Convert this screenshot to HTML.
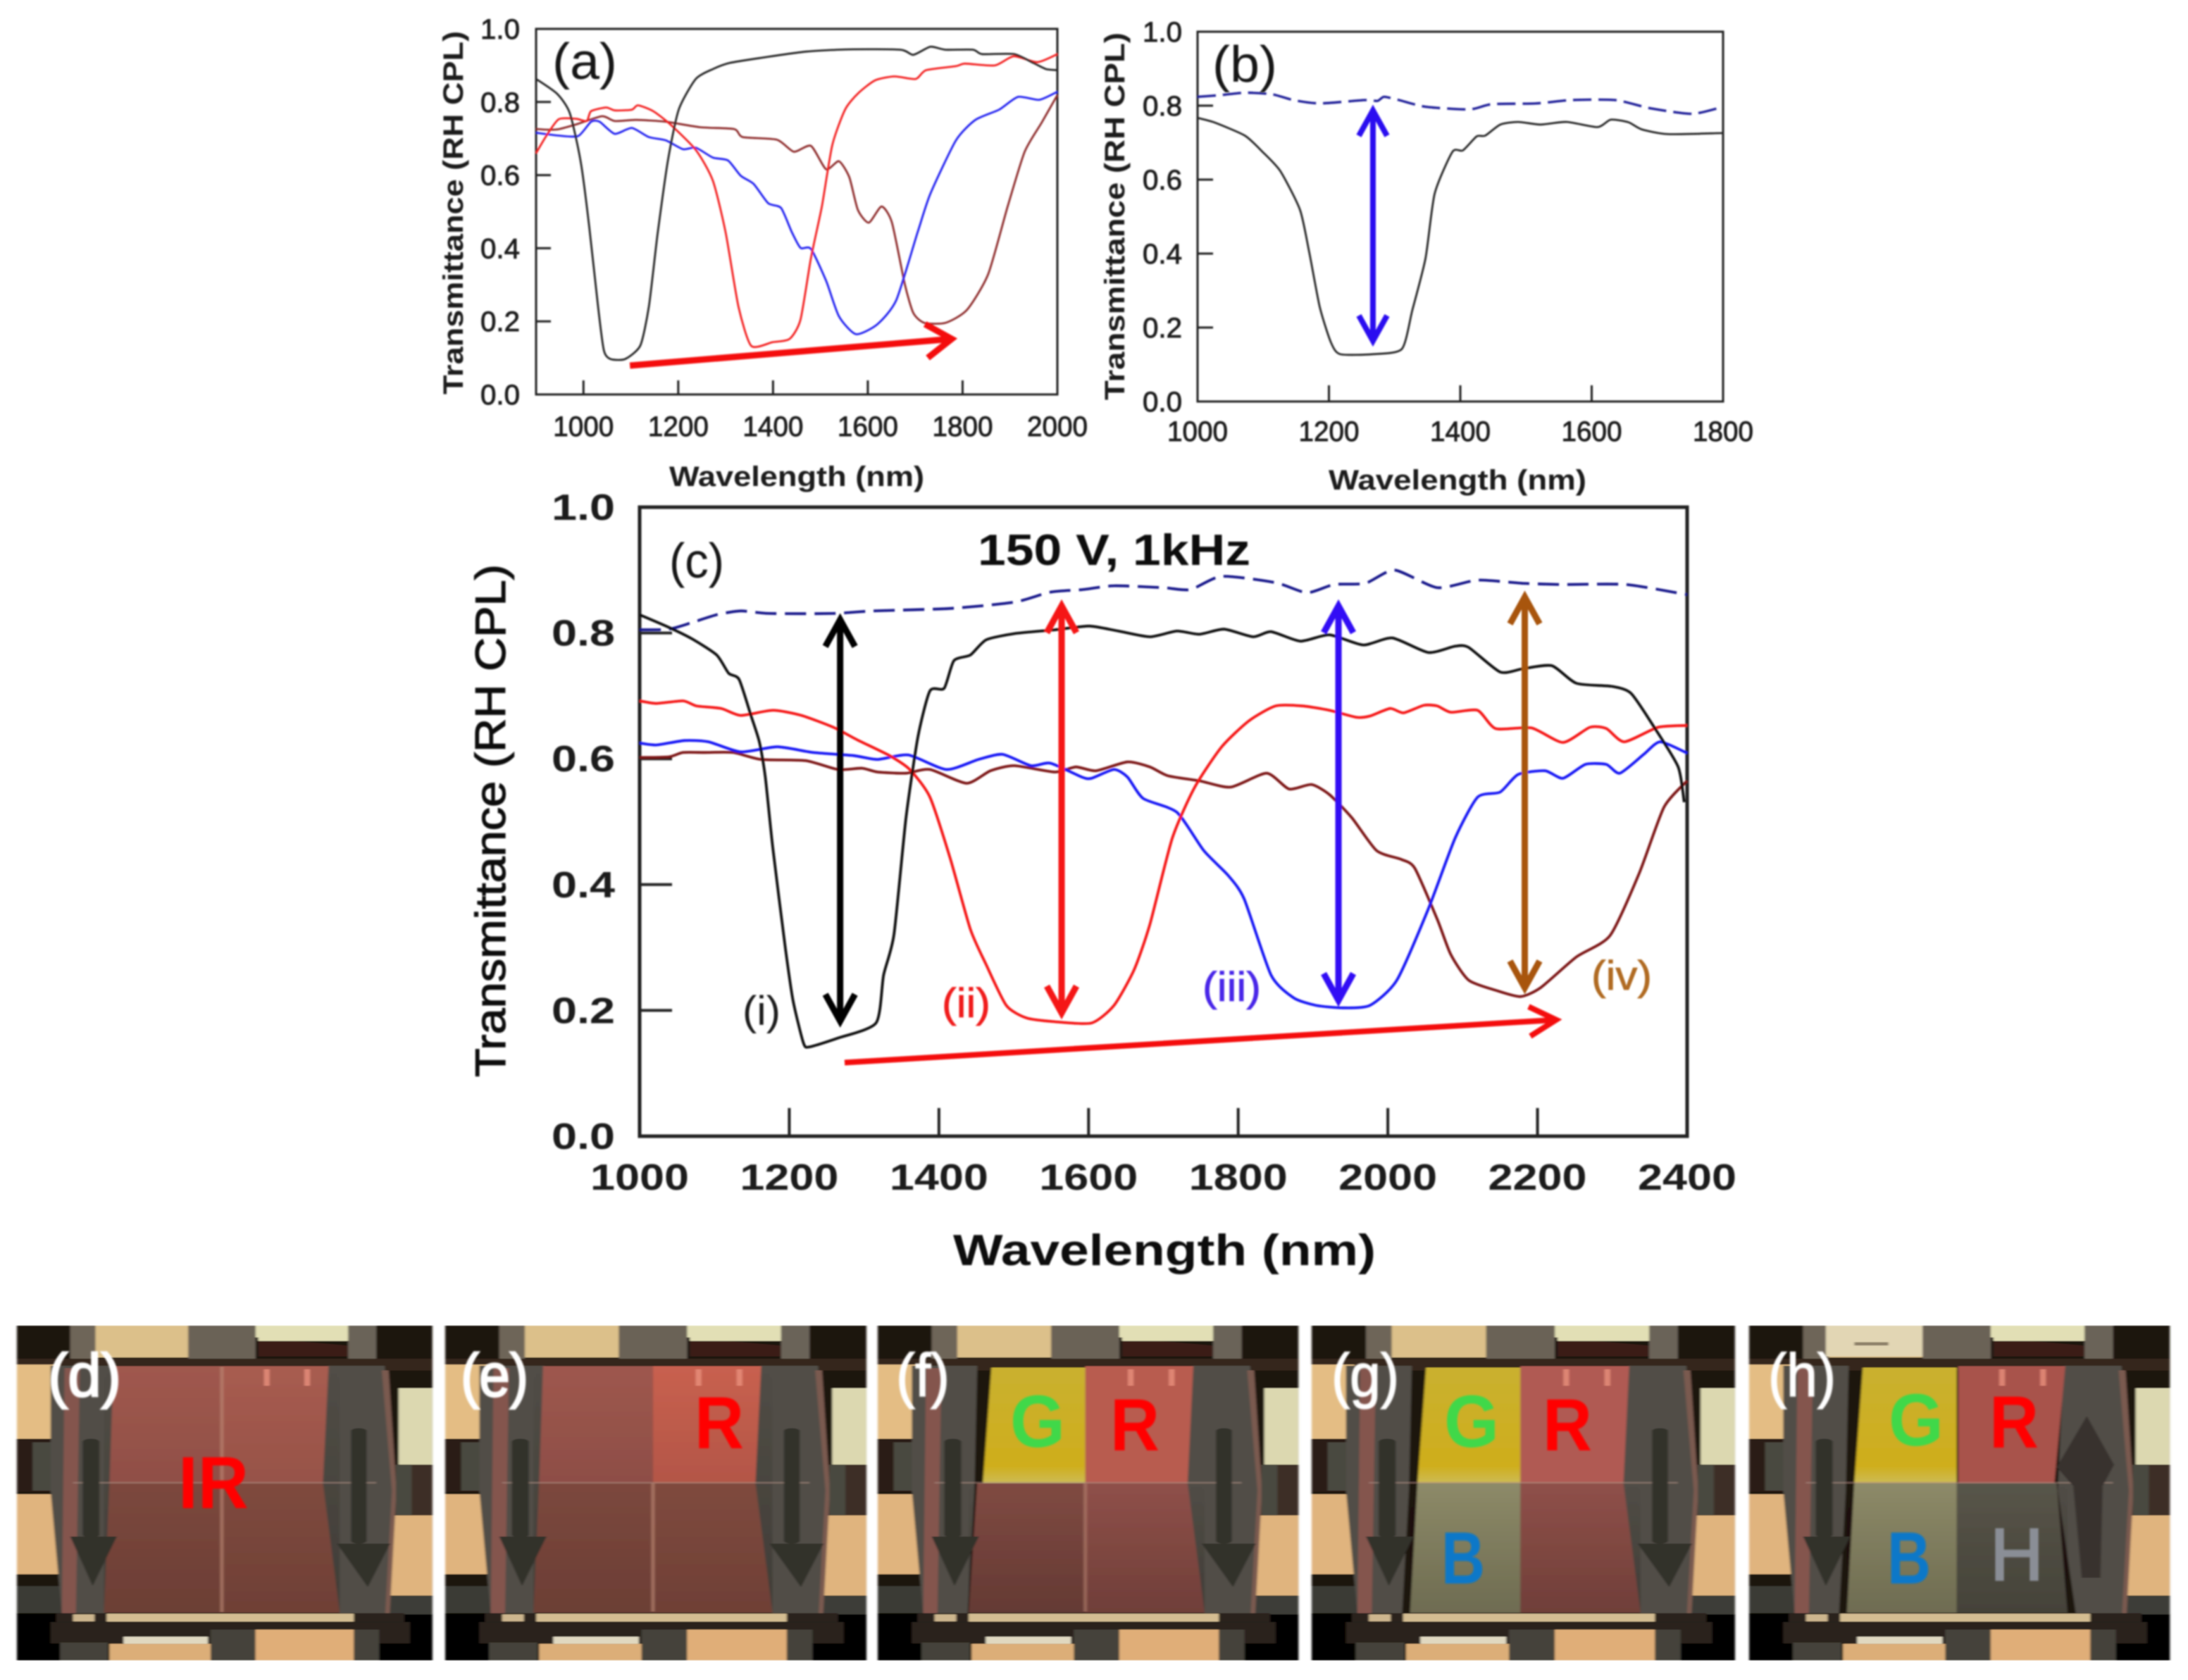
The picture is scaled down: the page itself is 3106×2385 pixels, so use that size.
<!DOCTYPE html>
<html lang="en">
<head>
<meta charset="utf-8">
<title>Transmittance spectra and reflective display panels</title>
<style>
html,body{margin:0;padding:0;background:#fff;}
svg{display:block;}
text{font-family:"Liberation Sans",sans-serif;}
</style>
</head>
<body>
<svg id="figure" xmlns="http://www.w3.org/2000/svg" width="3106" height="2385" viewBox="0 0 3106 2385">
  <defs>
    <filter id="soft" x="-5%" y="-5%" width="110%" height="110%"><feGaussianBlur stdDeviation="1.1"/></filter>
    <filter id="softer" x="-5%" y="-5%" width="110%" height="110%"><feGaussianBlur stdDeviation="2"/></filter>
    <filter id="softtext" x="-10%" y="-10%" width="120%" height="120%"><feGaussianBlur stdDeviation="1.2"/></filter>
    <linearGradient id="shade" x1="0" y1="0" x2="0" y2="1">
      <stop offset="0" stop-color="#000" stop-opacity="0"/>
      <stop offset="1" stop-color="#000" stop-opacity="0.22"/>
    </linearGradient>
    <linearGradient id="gold" x1="0" y1="0" x2="0" y2="1">
      <stop offset="0" stop-color="#c9b030"/>
      <stop offset=".85" stop-color="#cfae1c"/>
      <stop offset="1" stop-color="#cdbb55"/>
    </linearGradient>
    <g id="photo-base">
      <rect x="0" y="0" width="740" height="1420" fill="#1e120c"/>
      <rect x="135" y="0" width="170" height="135" fill="#dcc08a"/>
      <rect x="425" y="0" width="165" height="50" fill="#e2dfb5"/>
      <polygon points="430,50 590,85 590,130 430,130" fill="#3a1e18"/>
      <rect x="430" y="30" width="160" height="35" fill="#e2dfb5"/>
      <rect x="95" y="0" width="45" height="160" fill="#6e6558"/>
      <rect x="305" y="0" width="120" height="145" fill="#6a6257"/>
      <rect x="590" y="0" width="50" height="155" fill="#6b6358"/>
      <rect x="0" y="140" width="740" height="50" fill="#35261c"/>
      <rect x="0" y="165" width="75" height="315" fill="#e4bd84"/>
      <rect x="0" y="480" width="75" height="225" fill="#2a1a14"/>
      <rect x="28" y="495" width="50" height="205" fill="#4a4840"/>
      <rect x="0" y="715" width="85" height="340" fill="#e0b47e"/>
      <rect x="0" y="1055" width="75" height="55" fill="#1c1410"/>
      <rect x="0" y="1105" width="85" height="115" fill="#3a3a34"/>
      <rect x="0" y="1220" width="740" height="200" fill="#040404"/>
      <rect x="680" y="265" width="60" height="325" fill="#dcd8b0"/>
      <rect x="670" y="590" width="70" height="215" fill="#3e2e26"/>
      <rect x="665" y="805" width="75" height="340" fill="#e0b47e"/>
      <rect x="660" y="1145" width="80" height="80" fill="#3e3c38"/>
      <polygon points="60,170 175,170 170,700 158,1225 80,1225 60,700" fill="#514d46"/>
      <polygon points="85,180 112,180 105,1225 80,1225" fill="#84544e"/>
      <polygon points="553,170 655,170 672,700 662,1225 575,1225 543,700" fill="#514d46"/>
      <polygon points="650,190 662,190 676,700 664,1225 656,1225 668,700" fill="#7a5a50"/>
      <rect x="675" y="590" width="28" height="215" fill="#4a4840"/>
      <rect x="70" y="1220" width="620" height="38" fill="#2a241c"/>
      <rect x="160" y="1222" width="440" height="34" fill="#d4bd92"/>
      <rect x="100" y="1225" width="38" height="30" fill="#cdb68e"/>
      <rect x="60" y="1258" width="640" height="90" fill="#2a241c"/>
      <rect x="77" y="1345" width="85" height="75" fill="#45423a"/>
      <rect x="345" y="1290" width="85" height="130" fill="#45423a"/>
      <rect x="600" y="1290" width="45" height="130" fill="#45423a"/>
      <rect x="165" y="1350" width="180" height="70" fill="#dcae78"/>
      <rect x="425" y="1290" width="175" height="130" fill="#e0ae78"/>
      <rect x="190" y="1320" width="150" height="30" fill="#e0d8c0"/>
    </g>
    <g id="arrow-left">
      <rect x="117" y="480" width="30" height="420" rx="14" fill="#33302b"/>
      <polygon points="95,895 178,895 135,1105" fill="#33302b"/>
    </g>
    <g id="arrow-right">
      <rect x="595" y="435" width="28" height="490" rx="13" fill="#33302b"/>
      <polygon points="570,925 665,925 625,1110" fill="#33302b"/>
    </g>
    <g id="divider">
      <rect x="100" y="662" width="540" height="9" fill="#a78a7e" opacity=".45"/>
    </g>
    <g id="glow-marks">
      <rect x="440" y="185" width="10" height="70" fill="#e8907c" opacity=".8"/>
      <rect x="512" y="185" width="10" height="70" fill="#e8907c" opacity=".8"/>
    </g>
  </defs>

  <rect width="3106" height="2385" fill="#fff"/>

  <g id="charts" filter="url(#soft)"></g>

  <g filter="url(#soft)">
    <text x="784" y="112" font-size="72" fill="#151515" textLength="92" lengthAdjust="spacingAndGlyphs">(a)</text>
    <text transform="translate(657,302) rotate(-90)" text-anchor="middle" font-size="40" font-weight="bold" fill="#1c1c1c" textLength="516" lengthAdjust="spacingAndGlyphs">Transmittance (RH CPL)</text>
    <text x="1131" y="690" text-anchor="middle" font-size="40" font-weight="bold" fill="#1c1c1c" textLength="362" lengthAdjust="spacingAndGlyphs">Wavelength (nm)</text>
    <text x="1721" y="116" font-size="72" fill="#151515" textLength="92" lengthAdjust="spacingAndGlyphs">(b)</text>
    <text transform="translate(1596,307) rotate(-90)" text-anchor="middle" font-size="40" font-weight="bold" fill="#1c1c1c" textLength="522" lengthAdjust="spacingAndGlyphs">Transmittance (RH CPL)</text>
    <text x="2069" y="695" text-anchor="middle" font-size="40" font-weight="bold" fill="#1c1c1c" textLength="366" lengthAdjust="spacingAndGlyphs">Wavelength (nm)</text>
    <text x="950" y="820" font-size="70" fill="#151515" textLength="78" lengthAdjust="spacingAndGlyphs">(c)</text>
    <text x="1388" y="802" font-size="62" font-weight="bold" fill="#111" textLength="387" lengthAdjust="spacingAndGlyphs">150 V, 1kHz</text>
    <text transform="translate(717,1165) rotate(-90)" text-anchor="middle" font-size="60" fill="#111" stroke="#111" stroke-width="1.2" textLength="728" lengthAdjust="spacingAndGlyphs">Transmittance (RH CPL)</text>
    <text x="1653" y="1796" text-anchor="middle" font-size="62" font-weight="bold" fill="#111" textLength="600" lengthAdjust="spacingAndGlyphs">Wavelength (nm)</text>
    <text x="1054" y="1455" font-size="58" fill="#1a1a1a" textLength="54" lengthAdjust="spacingAndGlyphs">(i)</text>
    <text x="1337" y="1444" font-size="58" fill="#f01c1c" stroke="#f01c1c" stroke-width=".8" textLength="69" lengthAdjust="spacingAndGlyphs">(ii)</text>
    <text x="1707" y="1421" font-size="58" fill="#4a28e8" stroke="#4a28e8" stroke-width=".8" textLength="83" lengthAdjust="spacingAndGlyphs">(iii)</text>
    <text x="2259" y="1405" font-size="58" fill="#b06a20" stroke="#b06a20" stroke-width=".8" textLength="86" lengthAdjust="spacingAndGlyphs">(iv)</text>
  </g>

  <g>
    <g filter="url(#softer)" transform="translate(24,1882) scale(.797,.3345)">
      <use href="#photo-base"/>
      <polygon points="172,172 365,172 365,668 165,668" fill="#a0584e"/>
      <polygon points="365,172 555,172 545,668 365,668" fill="#a85c50"/>
      <polygon points="165,668 365,668 365,1218 155,1218" fill="#8a5044"/>
      <polygon points="365,668 545,668 575,1218 365,1218" fill="#8e5245"/>
      <polygon points="155,172 575,172 575,1218 155,1218" fill="url(#shade)"/>
      <rect x="362" y="175" width="6" height="1040" fill="#c08c78" opacity=".6"/>
      <use href="#glow-marks"/><use href="#divider"/><use href="#arrow-left"/><use href="#arrow-right"/>
    </g>
    <g filter="url(#softtext)">
      <text x="120" y="1982" text-anchor="middle" font-size="86" fill="#fff" stroke="#fff" stroke-width="2.5" textLength="104" lengthAdjust="spacingAndGlyphs">(d)</text>
      <text x="303" y="2141" text-anchor="middle" font-size="105" font-weight="bold" fill="#f00" textLength="100" lengthAdjust="spacingAndGlyphs">IR</text>
    </g>
  </g>

  <g>
    <g filter="url(#softer)" transform="translate(632,1882) scale(.808,.3345)">
      <use href="#photo-base"/>
      <polygon points="172,172 365,172 365,668 165,668" fill="#9e574e"/>
      <polygon points="365,172 555,172 545,668 365,668" fill="#c8604f"/>
      <polygon points="165,668 365,668 365,1218 155,1218" fill="#8a5044"/>
      <polygon points="365,668 545,668 575,1218 365,1218" fill="#8e5245"/>
      <polygon points="155,172 575,172 575,1218 155,1218" fill="url(#shade)"/>
      <rect x="362" y="668" width="6" height="545" fill="#c08c78" opacity=".6"/>
      <use href="#glow-marks"/><use href="#divider"/><use href="#arrow-left"/><use href="#arrow-right"/>
    </g>
    <g filter="url(#softtext)">
      <text x="702" y="1982" text-anchor="middle" font-size="86" fill="#fff" stroke="#fff" stroke-width="2.5" textLength="96" lengthAdjust="spacingAndGlyphs">(e)</text>
      <text x="1021" y="2056" text-anchor="middle" font-size="105" font-weight="bold" fill="#f00" textLength="70" lengthAdjust="spacingAndGlyphs">R</text>
    </g>
  </g>

  <g>
    <g filter="url(#softer)" transform="translate(1246,1882) scale(.807,.3345)">
      <use href="#photo-base"/>
      <polygon points="200,178 365,178 365,668 185,668" fill="url(#gold)"/>
      <polygon points="365,172 555,172 545,668 365,668" fill="#b85c50"/>
      <polygon points="175,668 365,668 365,1218 160,1218" fill="#804a42"/>
      <polygon points="365,668 545,668 575,1218 365,1218" fill="#8f5049"/>
      <polygon points="160,668 575,668 575,1218 160,1218" fill="url(#shade)"/>
      <rect x="362" y="668" width="6" height="545" fill="#c08c78" opacity=".5"/>
      <use href="#glow-marks"/><use href="#divider"/><use href="#arrow-left"/><use href="#arrow-right"/>
    </g>
    <g filter="url(#softtext)">
      <text x="1310" y="1982" text-anchor="middle" font-size="86" fill="#fff" stroke="#fff" stroke-width="1.5" textLength="76" lengthAdjust="spacingAndGlyphs">(f)</text>
      <text x="1473" y="2054" text-anchor="middle" font-size="105" font-weight="bold" fill="#3fd84a" textLength="78" lengthAdjust="spacingAndGlyphs">G</text>
      <text x="1611" y="2059" text-anchor="middle" font-size="105" font-weight="bold" fill="#f00" textLength="70" lengthAdjust="spacingAndGlyphs">R</text>
    </g>
  </g>

  <g>
    <g filter="url(#softer)" transform="translate(1862,1882) scale(.812,.3345)">
      <use href="#photo-base"/>
      <polygon points="200,178 365,178 365,668 185,668" fill="url(#gold)"/>
      <polygon points="365,172 555,172 545,668 365,668" fill="#b05a52"/>
      <polygon points="185,668 365,668 365,1218 172,1218" fill="#8d8a68"/>
      <polygon points="365,668 545,668 575,1218 365,1218" fill="#8f5049"/>
      <polygon points="172,668 575,668 575,1218 172,1218" fill="url(#shade)"/>
      <use href="#glow-marks"/><use href="#divider"/><use href="#arrow-left"/><use href="#arrow-right"/>
    </g>
    <g filter="url(#softtext)">
      <text x="1938" y="1982" text-anchor="middle" font-size="86" fill="#fff" stroke="#fff" stroke-width="1.5" textLength="96" lengthAdjust="spacingAndGlyphs">(g)</text>
      <text x="2089" y="2054" text-anchor="middle" font-size="105" font-weight="bold" fill="#3fd84a" textLength="78" lengthAdjust="spacingAndGlyphs">G</text>
      <text x="2225" y="2059" text-anchor="middle" font-size="105" font-weight="bold" fill="#f00" textLength="70" lengthAdjust="spacingAndGlyphs">R</text>
      <text x="2077" y="2248" text-anchor="middle" font-size="105" font-weight="bold" fill="#0b78c8" textLength="62" lengthAdjust="spacingAndGlyphs">B</text>
    </g>
  </g>

  <g>
    <g filter="url(#softer)" transform="translate(2483,1882) scale(.807,.3345)">
      <use href="#photo-base"/>
      <rect x="135" y="0" width="170" height="130" fill="#e2d6b4"/>
      <rect x="185" y="70" width="60" height="14" fill="#6b5c48" opacity=".7"/>
      <polygon points="200,178 365,178 365,668 185,668" fill="url(#gold)"/>
      <polygon points="368,172 556,172 537,668 368,668" fill="#a8524c"/>
      <polygon points="185,668 365,668 365,1218 172,1218" fill="#8d8a68"/>
      <polygon points="365,668 541,668 560,1218 365,1218" fill="#585549"/>
      <polygon points="172,668 560,668 560,1218 172,1218" fill="url(#shade)"/>
      <use href="#glow-marks"/><use href="#divider"/><use href="#arrow-left"/>
      <polygon points="594,383 642,590 622,680 618,1070 585,1070 570,680 541,600" fill="#39332e"/>
    </g>
    <g filter="url(#softtext)">
      <text x="2558" y="1982" text-anchor="middle" font-size="86" fill="#fff" stroke="#fff" stroke-width="1.5" textLength="96" lengthAdjust="spacingAndGlyphs">(h)</text>
      <text x="2720" y="2052" text-anchor="middle" font-size="105" font-weight="bold" fill="#3fd84a" textLength="78" lengthAdjust="spacingAndGlyphs">G</text>
      <text x="2859" y="2055" text-anchor="middle" font-size="105" font-weight="bold" fill="#f00" textLength="70" lengthAdjust="spacingAndGlyphs">R</text>
      <text x="2710" y="2248" text-anchor="middle" font-size="105" font-weight="bold" fill="#0b78c8" textLength="62" lengthAdjust="spacingAndGlyphs">B</text>
      <text x="2863" y="2243" text-anchor="middle" font-size="105" fill="#8a8e96" stroke="#8a8e96" stroke-width="2.5" textLength="76" lengthAdjust="spacingAndGlyphs">H</text>
    </g>
  </g>
</svg>

<script>
const transmittanceTicks = [0, 0.2, 0.4, 0.6, 0.8, 1.0];
const transmittanceTickLabels = ["0.0", "0.2", "0.4", "0.6", "0.8", "1.0"];

const panelAWavelengthTicks = [1000, 1200, 1400, 1600, 1800, 2000];
const panelBWavelengthTicks = [1000, 1200, 1400, 1600, 1800];
const panelCWavelengthTicks = [1000, 1200, 1400, 1600, 1800, 2000, 2200, 2400];

const aBlackWavelength = [900,944,971,994,1012,1030,1043,1057,1088,1120,1138,1156,1178,1201,1237,1273,1309,1381,1471,1561,1669,1696,1732,1764,1822,1841,1908,1949,1976,2000];
const aBlackValues = [.863,.823,.770,.638,.461,.249,.121,.097,.097,.134,.240,.435,.638,.779,.863,.890,.907,.922,.938,.944,.943,.929,.951,.943,.943,.931,.931,.907,.890,.887];
const aRedWavelength = [900,922,948,985,1007,1016,1048,1066,1102,1115,1147,1183,1237,1273,1300,1327,1354,1399,1435,1458,1480,1503,1525,1552,1579,1615,1656,1701,1723,1786,1805,1868,1908,1958,2000];
const aRedValues = [.660,.708,.753,.754,.748,.775,.785,.777,.779,.791,.775,.739,.669,.585,.443,.240,.133,.143,.152,.205,.373,.514,.682,.779,.823,.859,.870,.863,.887,.898,.905,.900,.925,.909,.931];
const aBlueWavelength = [900,948,989,1016,1034,1066,1102,1138,1174,1210,1237,1273,1305,1332,1359,1390,1417,1440,1458,1480,1512,1539,1575,1620,1660,1705,1732,1786,1827,1877,1917,1962,2000];
const aBlueValues = [.716,.708,.707,.746,.746,.713,.729,.704,.695,.671,.675,.648,.640,.598,.576,.523,.510,.443,.401,.398,.311,.214,.165,.192,.258,.443,.549,.695,.751,.779,.814,.806,.828];
const aBrownWavelength = [900,926,949,985,1039,1066,1111,1174,1246,1318,1336,1408,1444,1480,1512,1539,1561,1579,1602,1629,1651,1678,1696,1719,1764,1809,1854,1895,1931,1967,2000];
const aBrownValues = [.726,.724,.726,.739,.761,.748,.751,.746,.731,.726,.704,.697,.664,.680,.616,.638,.594,.505,.470,.514,.470,.302,.223,.196,.196,.231,.329,.514,.664,.744,.819];

const bBlackWavelength = [1000,1025,1072,1099,1126,1156,1170,1186,1203,1217,1267,1311,1327,1347,1361,1388,1404,1425,1438,1461,1488,1522,1562,1609,1629,1656,1676,1716,1800];
const bBlackValues = [.767,.755,.719,.675,.623,.518,.404,.256,.160,.128,.128,.142,.247,.387,.562,.675,.679,.717,.719,.749,.756,.749,.756,.742,.762,.755,.736,.723,.726];
const bDashedWavelength = [1000,1032,1072,1113,1146,1186,1254,1274,1284,1307,1347,1414,1448,1515,1569,1636,1689,1753,1800];
const bDashedValues = [.824,.828,.835,.831,.815,.806,.815,.813,.824,.815,.797,.790,.804,.806,.815,.815,.793,.778,.797];

const cBlackWavelength = [1000,1039,1071,1103,1119,1133,1149,1160,1168,1178,1195,1205,1219,1227,1265,1316,1326,1340,1356,1372,1388,1407,1420,1442,1463,1501,1555,1601,1640,1682,1718,1748,1781,1820,1844,1883,1922,1967,2006,2054,2090,2108,2150,2180,2219,2252,2300,2325,2355,2388,2396];
const cBlackValues = [.829,.809,.790,.765,.736,.726,.668,.627,.571,.458,.297,.216,.148,.142,.156,.180,.256,.321,.506,.635,.708,.712,.756,.765,.789,.799,.805,.811,.803,.794,.803,.798,.806,.794,.802,.787,.797,.781,.792,.769,.779,.777,.738,.743,.748,.720,.715,.704,.652,.587,.531];
const cRedWavelength = [1000,1022,1058,1076,1109,1135,1178,1216,1259,1291,1334,1361,1388,1415,1442,1463,1490,1517,1555,1604,1634,1661,1682,1712,1742,1778,1814,1850,1886,1922,1958,1976,2003,2021,2048,2066,2084,2120,2144,2192,2234,2270,2292,2316,2361,2400];
const cRedValues = [.692,.688,.692,.684,.680,.669,.677,.669,.650,.630,.605,.583,.539,.442,.329,.273,.208,.188,.182,.180,.208,.265,.337,.474,.555,.619,.660,.684,.684,.677,.666,.668,.680,.673,.685,.684,.674,.677,.648,.649,.626,.650,.648,.627,.650,.653];
const cBlueWavelength = [1000,1022,1060,1092,1135,1184,1232,1286,1318,1359,1410,1453,1485,1523,1549,1591,1604,1634,1652,1673,1718,1754,1787,1808,1844,1874,1904,1940,1976,2012,2054,2090,2120,2150,2174,2210,2234,2264,2292,2310,2342,2364,2400];
const cBlueValues = [.625,.622,.629,.627,.611,.619,.610,.605,.599,.606,.583,.599,.607,.589,.593,.571,.569,.583,.571,.537,.515,.454,.414,.377,.256,.220,.208,.204,.208,.248,.361,.474,.539,.547,.575,.581,.569,.591,.591,.577,.607,.627,.609];
const cBrownWavelength = [1000,1039,1058,1087,1125,1162,1222,1265,1297,1318,1356,1388,1437,1469,1501,1555,1583,1610,1652,1682,1706,1748,1790,1838,1868,1898,1922,1952,1985,2018,2036,2066,2084,2108,2144,2177,2204,2252,2297,2336,2369,2400];
const cBrownValues = [.602,.603,.610,.610,.610,.599,.597,.583,.585,.579,.577,.583,.561,.581,.589,.579,.587,.581,.595,.587,.573,.565,.555,.577,.552,.559,.543,.506,.454,.440,.426,.345,.289,.248,.232,.222,.236,.285,.319,.418,.523,.565];
const cDashedWavelength = [1000,1039,1071,1103,1135,1173,1259,1312,1415,1501,1549,1592,1634,1700,1736,1778,1850,1892,1928,1970,2009,2066,2120,2180,2234,2318,2400];
const cDashedValues = [.805,.806,.817,.829,.835,.831,.831,.835,.839,.849,.865,.869,.875,.872,.869,.890,.880,.864,.877,.879,.900,.872,.884,.879,.877,.877,.861];

const cArrowWavelengths = [1268, 1564, 1934, 2183];
const cArrowUpper = [.821, .843, .843, .857];
const cArrowLower = [.183, .196, .216, .236];

const svgNS = "http://www.w3.org/2000/svg";
const charts = document.getElementById("charts");

function make(tag, parent, attrs) {
  const el = document.createElementNS(svgNS, tag);
  for (const k in attrs) el.setAttribute(k, attrs[k]);
  parent.appendChild(el);
  return el;
}

function linearScale(d0, d1, r0, r1) {
  return function (v) { return r0 + (v - d0) * (r1 - r0) / (d1 - d0); };
}

function pathFrom(xs, ys, sx, sy) {
  const px = xs.map(sx), py = ys.map(sy), k = 0.11;
  let d = "M" + px[0].toFixed(1) + " " + py[0].toFixed(1);
  for (let i = 0; i < px.length - 1; i++) {
    const a = Math.max(i - 1, 0), b = Math.min(i + 2, px.length - 1);
    const c1x = px[i] + (px[i + 1] - px[a]) * k, c1y = py[i] + (py[i + 1] - py[a]) * k;
    const c2x = px[i + 1] - (px[b] - px[i]) * k, c2y = py[i + 1] - (py[b] - py[i]) * k;
    d += "C" + c1x.toFixed(1) + " " + c1y.toFixed(1) + " " + c2x.toFixed(1) + " " + c2y.toFixed(1) + " " + px[i + 1].toFixed(1) + " " + py[i + 1].toFixed(1);
  }
  return d;
}

function drawAxes(p, group, xTicks) {
  const frame = make("rect", group, {x: p.left, y: p.top, width: p.right - p.left, height: p.bottom - p.top, fill: "none", stroke: "#222", "stroke-width": p.frameWidth});
  
  
  for (let i = 0; i < xTicks.length; i++) {
    const x = p.sx(xTicks[i]);
    if (xTicks[i] > p.xMin && xTicks[i] < p.xMax) {
      const tick = make("line", group, {x1: x, x2: x, y1: p.bottom, y2: p.bottom - p.xTickLength, stroke: "#222", "stroke-width": p.tickWidth});
      
      
    }
    const label = make("text", group, {x: x, y: p.xLabelBaseline, "text-anchor": "middle", "font-size": p.fontSize, "font-weight": p.fontWeight, fill: "#1c1c1c", stroke: "#1c1c1c", "stroke-width": p.labelStroke, textLength: p.xLabelWidth, lengthAdjust: "spacingAndGlyphs"});
    
    
    label.textContent = String(xTicks[i]);
  }
  for (let i = 0; i < transmittanceTicks.length; i++) {
    const y = p.sy(transmittanceTicks[i]);
    if (i > 0 && i < transmittanceTicks.length - 1) {
      const tick = make("line", group, {x1: p.left, x2: p.left + p.yTickLength, y1: y, y2: y, stroke: "#222", "stroke-width": p.tickWidth});
      
      
    }
    const label = make("text", group, {x: p.yLabelRight, y: y + p.yLabelShift, "text-anchor": "end", "font-size": p.fontSize, "font-weight": p.fontWeight, fill: "#1c1c1c", stroke: "#1c1c1c", "stroke-width": p.labelStroke, textLength: p.yLabelWidth, lengthAdjust: "spacingAndGlyphs"});
    
    
    label.textContent = transmittanceTickLabels[i];
  }
}

function drawSeries(p, group, xs, ys, color, width, dash, name) {
  const attrs = {d: pathFrom(xs, ys, p.sx, p.sy), fill: "none", stroke: color, "stroke-width": width, "stroke-linejoin": "round"};
  if (dash) attrs["stroke-dasharray"] = dash;
  const line = make("path", group, attrs);
  
  
}

function chevron(group, tx, ty, ux, uy, halfW, len, color, width) {
  const bx = tx - ux * len, by = ty - uy * len;
  const nx = -uy, ny = ux;
  const head = make("polyline", group, {points: (bx + nx * halfW) + "," + (by + ny * halfW) + " " + tx + "," + ty + " " + (bx - nx * halfW) + "," + (by - ny * halfW), fill: "none", stroke: color, "stroke-width": width, "stroke-linejoin": "miter"});
  
  
}

function drawDoubleArrow(p, group, wl, upper, lower, color, name) {
  const x = p.sx(wl), y1 = p.sy(upper), y2 = p.sy(lower);
  const shaft = make("line", group, {x1: x, x2: x, y1: y1 + 4, y2: y2 - 4, stroke: color, "stroke-width": p.arrowWidth});
  
  
  chevron(group, x, y1, 0, -1, p.arrowHalf, p.arrowLen, color, p.arrowWidth);
  chevron(group, x, y2, 0, 1, p.arrowHalf, p.arrowLen, color, p.arrowWidth);
}

function drawTrendArrow(p, group, x0, t0, x1, t1, width, halfW, len, name) {
  const ax = p.sx(x0), ay = p.sy(t0), bx = p.sx(x1), by = p.sy(t1);
  const L = Math.hypot(bx - ax, by - ay), ux = (bx - ax) / L, uy = (by - ay) / L;
  const shaft = make("line", group, {x1: ax, y1: ay, x2: bx - ux * 3, y2: by - uy * 3, stroke: "#f40a0a", "stroke-width": width});
  
  
  chevron(group, bx, by, ux, uy, halfW, len, "#f40a0a", width);
}

const panelA = {left: 761, right: 1501, top: 41, bottom: 560, xMin: 900, xMax: 2000, frameWidth: 3, tickWidth: 3, xTickLength: 20, yTickLength: 21, xLabelBaseline: 619, yLabelRight: 738, yLabelShift: 14, fontSize: 40, fontWeight: "normal", labelStroke: 0.9, xLabelWidth: 86, yLabelWidth: 56};
panelA.sx = linearScale(panelA.xMin, panelA.xMax, panelA.left, panelA.right);
panelA.sy = linearScale(0, 1, panelA.bottom, panelA.top);
const panelB = {left: 1700, right: 2446, top: 45, bottom: 570, xMin: 1000, xMax: 1800, frameWidth: 3, tickWidth: 3, xTickLength: 23, yTickLength: 22, xLabelBaseline: 626, yLabelRight: 1678, yLabelShift: 14, fontSize: 40, fontWeight: "normal", labelStroke: 0.9, xLabelWidth: 86, yLabelWidth: 56, arrowWidth: 8, arrowHalf: 20, arrowLen: 36};
panelB.sx = linearScale(panelB.xMin, panelB.xMax, panelB.left, panelB.right);
panelB.sy = linearScale(0, 1, panelB.bottom, panelB.top);
const panelC = {left: 908, right: 2395, top: 720, bottom: 1613, xMin: 1000, xMax: 2400, frameWidth: 5, tickWidth: 4, xTickLength: 40, yTickLength: 46, xLabelBaseline: 1689, yLabelRight: 873, yLabelShift: 18, fontSize: 52, fontWeight: "bold", labelStroke: 0, xLabelWidth: 140, yLabelWidth: 90, arrowWidth: 9, arrowHalf: 21, arrowLen: 38};
panelC.sx = linearScale(panelC.xMin, panelC.xMax, panelC.left, panelC.right);
panelC.sy = linearScale(0, 1, panelC.bottom, panelC.top);

const groupA = make("g", charts, {});


drawAxes(panelA, groupA, panelAWavelengthTicks);
drawSeries(panelA, groupA, aBrownWavelength, aBrownValues, "#8f2d2d", 2.8, null, "panel-a-brown-curve");
drawSeries(panelA, groupA, aBlueWavelength, aBlueValues, "#2323f0", 2.8, null, "panel-a-blue-curve");
drawSeries(panelA, groupA, aRedWavelength, aRedValues, "#f32020", 2.8, null, "panel-a-red-curve");
drawSeries(panelA, groupA, aBlackWavelength, aBlackValues, "#262626", 2.8, null, "panel-a-black-curve");
drawTrendArrow(panelA, groupA, 1098, .079, 1777, .152, 9, 24, 36, "panel-a-trend-arrow");

const groupB = make("g", charts, {});


drawAxes(panelB, groupB, panelBWavelengthTicks);
drawSeries(panelB, groupB, bDashedWavelength, bDashedValues, "#20209a", 3.4, "26 10", "panel-b-dashed-curve");
drawSeries(panelB, groupB, bBlackWavelength, bBlackValues, "#262626", 2.8, null, "panel-b-black-curve");
drawDoubleArrow(panelB, groupB, 1267, .787, .164, "#2a10f0", "panel-b-double-arrow");

const groupC = make("g", charts, {});


drawAxes(panelC, groupC, panelCWavelengthTicks);
drawSeries(panelC, groupC, cDashedWavelength, cDashedValues, "#14148a", 3.8, "30 12", "panel-c-dashed-curve");
drawSeries(panelC, groupC, cBrownWavelength, cBrownValues, "#7d1414", 3.8, null, "panel-c-brown-curve");
drawSeries(panelC, groupC, cBlueWavelength, cBlueValues, "#1414f5", 3.8, null, "panel-c-blue-curve");
drawSeries(panelC, groupC, cRedWavelength, cRedValues, "#f51414", 3.8, null, "panel-c-red-curve");
drawSeries(panelC, groupC, cBlackWavelength, cBlackValues, "#111", 3.8, null, "panel-c-black-curve");
drawDoubleArrow(panelC, groupC, cArrowWavelengths[0], cArrowUpper[0], cArrowLower[0], "#000", "panel-c-black-double-arrow");
drawDoubleArrow(panelC, groupC, cArrowWavelengths[1], cArrowUpper[1], cArrowLower[1], "#f51414", "panel-c-red-double-arrow");
drawDoubleArrow(panelC, groupC, cArrowWavelengths[2], cArrowUpper[2], cArrowLower[2], "#3010f5", "panel-c-blue-double-arrow");
drawDoubleArrow(panelC, groupC, cArrowWavelengths[3], cArrowUpper[3], cArrowLower[3], "#a8540f", "panel-c-brown-double-arrow");
drawTrendArrow(panelC, groupC, 1274, .117, 2225, .185, 8, 21, 38, "panel-c-trend-arrow");
</script>
</body>
</html>
